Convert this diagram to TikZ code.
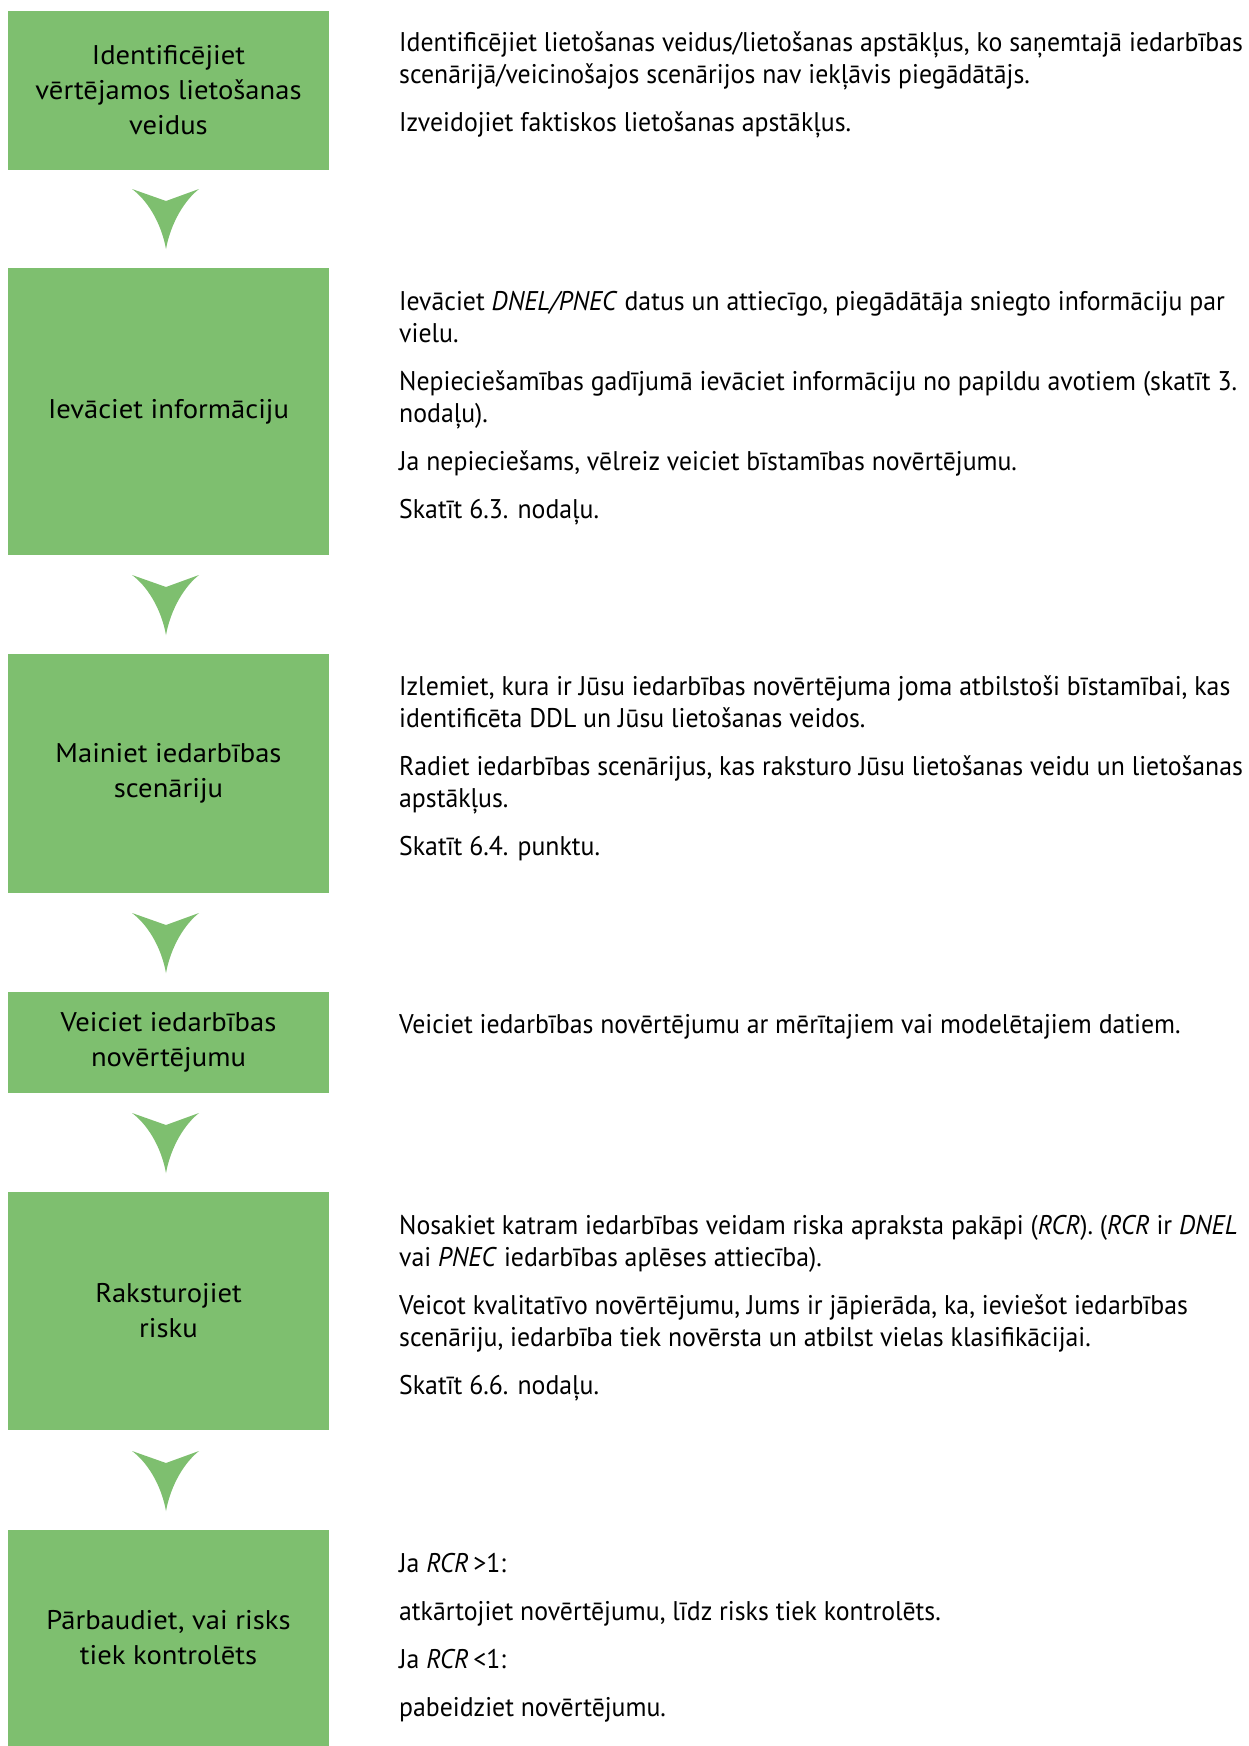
\documentclass[tikz,border=0pt]{standalone}
\usepackage{fontspec}
\setmainfont[FakeStretch=1.06]{PT Sans}
\newfontfamily\rfont[FakeStretch=0.955]{PT Sans}
\definecolor{boxgreen}{HTML}{7EBF6F}
\begin{document}
\begin{tikzpicture}[x=1pt,y=-1pt,
  stepbox/.style={fill=boxgreen, inner sep=0pt, align=center, text=black,
    font=\fontsize{27}{35}\selectfont, minimum width=321pt},
  rline/.style={anchor=base west, inner sep=0pt, text=black,
    font=\rfont\fontsize{27}{32}\selectfont},
  garrow/.pic={\fill[boxgreen] (-34,0) -- (0,12) -- (33,0)
     .. controls (19,11) and (5,33) .. (0,60)
     .. controls (-5,33) and (-19,11) .. (-34,0) -- cycle;}
]
\useasboundingbox (0,0) rectangle (1249,1746);
\fill[white] (0,0) rectangle (1249,1746);

% boxes
\node[stepbox, minimum height=159pt] (b1) at (168.5,90.5) {Identificējiet\\vērtējamos lietošanas\\veidus};
\node[stepbox, minimum height=287pt] (b2) at (168.5,411.5) {Ievāciet informāciju};
\node[stepbox, minimum height=239pt] (b3) at (168.5,773.5) {Mainiet iedarbības\\scenāriju};
\node[stepbox, minimum height=101pt] (b4) at (168.5,1042.5) {Veiciet iedarbības\\novērtējumu};
\node[stepbox, minimum height=238pt] (b5) at (168.5,1311) {Raksturojiet\\risku};
\node[stepbox, minimum height=216pt] (b6) at (168.5,1638) {Pārbaudiet, vai risks\\tiek kontrolēts};

% arrows
\pic at (166,189) {garrow};
\pic at (166,575) {garrow};
\pic at (166,913) {garrow};
\pic at (166,1113) {garrow};
\pic at (166,1451) {garrow};

% right texts
\node[rline] (r1a) at (399,51) {Identificējiet lietošanas veidus/lietošanas apstākļus, ko saņemtajā iedarbības};
\node[rline] (r1b) at (399,83) {scenārijā/veicinošajos scenārijos nav iekļāvis piegādātājs.};
\node[rline] (r1c) at (399,131) {Izveidojiet faktiskos lietošanas apstākļus.};

\node[rline] (r2a) at (399,310) {Ievāciet \textit{DNEL/PNEC} datus un attiecīgo, piegādātāja sniegto informāciju par};
\node[rline] (r2b) at (399,342) {vielu.};
\node[rline] (r2c) at (399,390) {Nepieciešamības gadījumā ievāciet informāciju no papildu avotiem (skatīt 3.};
\node[rline] (r2d) at (399,422) {nodaļu).};
\node[rline] (r2e) at (399,470) {Ja nepieciešams, vēlreiz veiciet bīstamības novērtējumu.};
\node[rline] (r2f) at (399,518) {Skatīt 6.3. nodaļu.};

\node[rline] (r3a) at (399,695) {Izlemiet, kura ir Jūsu iedarbības novērtējuma joma atbilstoši bīstamībai, kas};
\node[rline] (r3b) at (399,727) {identificēta DDL un Jūsu lietošanas veidos.};
\node[rline] (r3c) at (399,775) {Radiet iedarbības scenārijus, kas raksturo Jūsu lietošanas veidu un lietošanas};
\node[rline] (r3d) at (399,807) {apstākļus.};
\node[rline] (r3e) at (399,855) {Skatīt 6.4. punktu.};

\node[rline] (r4a) at (399,1033) {Veiciet iedarbības novērtējumu ar mērītajiem vai modelētajiem datiem.};

\node[rline] (r5a) at (399,1234) {Nosakiet katram iedarbības veidam riska apraksta pakāpi (\textit{RCR}). (\textit{RCR} ir \textit{DNEL}};
\node[rline] (r5b) at (399,1266) {vai \textit{PNEC} iedarbības aplēses attiecība).};
\node[rline] (r5c) at (399,1314) {Veicot kvalitatīvo novērtējumu, Jums ir jāpierāda, ka, ieviešot iedarbības};
\node[rline] (r5d) at (399,1346) {scenāriju, iedarbība tiek novērsta un atbilst vielas klasifikācijai.};
\node[rline] (r5e) at (399,1394) {Skatīt 6.6. nodaļu.};

\node[rline] (r6a) at (399,1572) {Ja \textit{RCR}\,>1:};
\node[rline] (r6b) at (399,1620) {atkārtojiet novērtējumu, līdz risks tiek kontrolēts.};
\node[rline] (r6c) at (399,1668) {Ja \textit{RCR}\,<1:};
\node[rline] (r6d) at (399,1716) {pabeidziet novērtējumu.};
\end{tikzpicture}
\end{document}
